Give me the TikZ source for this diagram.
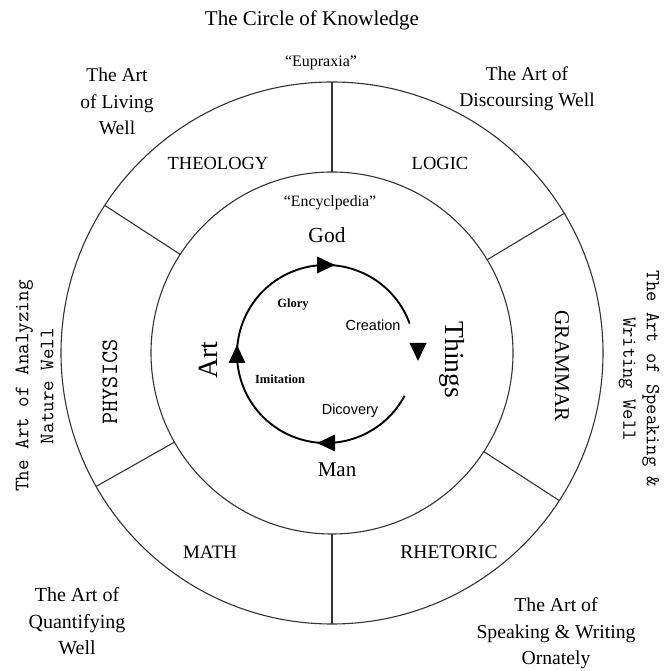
\documentclass[tikz,border=0pt]{standalone}
\usepackage{fontspec}
\setmainfont{Liberation Serif}
\newfontfamily\sansf{Liberation Sans}
\newcommand{\fsz}[2]{\fontsize{#1}{#2}\selectfont}
\begin{document}
\begin{tikzpicture}[x=1pt,y=1pt,
  lbl/.style={inner sep=0pt, text=black},
  ring/.style={draw=black!80, line width=1.1pt},
  cyc/.style={draw=black, line width=1.9pt},
  tri/.pic={\fill[black] (9,0) -- (-9,8.5) -- (-9,-8.5) -- cycle;}]
\useasboundingbox (0,0) rectangle (666,671);
\fill[white] (0,0) rectangle (666,671);
% circles
\coordinate (C) at (332,318);
\draw[ring] (C) circle[radius=271];
\draw[ring] (C) circle[radius=181];
\foreach \a in {90,31,-33,-90,209.5,147}
  \draw[ring] ([shift={(\a:181)}]C) -- ([shift={(\a:271)}]C);
% cycle
\coordinate (K) at (326,317);
\draw[cyc] ([shift={(20:89)}]K) arc[start angle=20, end angle=332, radius=89];
\pic[rotate=0] at ([shift={(90:89)}]K) {tri};
\pic[rotate=90] at ([shift={(180:89)}]K) {tri};
\pic[rotate=180] at ([shift={(270:89)}]K) {tri};
\pic[rotate=-90] at (418,319) {tri};
% texts
\node[lbl, font=\fsz{21}{25}] (title) at (312,651) {The Circle of Knowledge};
\node[lbl, font=\fsz{16}{19}] (eupraxia) at (321,608) {“Eupraxia”};
\node[lbl, align=center, font=\fsz{19.5}{26.5}] (living) at (117,569.5) {The Art\\of Living\\Well};
\node[lbl, align=center, font=\fsz{19.5}{26.5}] (discoursing) at (527,582.5) {The Art of\\Discoursing Well};
\node[lbl, font=\fsz{18.5}{22}] (theology) at (218,508) {THEOLOGY};
\node[lbl, font=\fsz{18.5}{22}] (logic) at (440,508) {LOGIC};
\node[lbl, font=\fsz{15.8}{19}] (encyc) at (330,468) {“Encyclpedia”};
\node[lbl, font=\fsz{21.5}{25}] (god) at (327,436) {God};
\node[lbl, font=\fsz{12.5}{15}\bfseries] (glory) at (293,366) {Glory};
\node[lbl, font=\fsz{14.5}{17}\sansf] (creation) at (373,346) {Creation};
\node[lbl, font=\fsz{12.5}{15}\bfseries] (imitation) at (280,292) {Imitation};
\node[lbl, font=\fsz{14.5}{17}\sansf] (dicovery) at (350,260) {Dicovery};
\node[lbl, font=\fsz{21}{25}] (man) at (337,201) {Man};
\node[lbl, rotate=-90, font=\fsz{27.5}{30}] (things) at (452,311) {Things};
\node[lbl, rotate=90, font=\fsz{28}{30}] (art) at (208,311) {Art};
\node[lbl, rotate=-90, font=\fsz{21}{25}] (grammar) at (562,305) {GRAMMAR};
\node[lbl, rotate=90, font=\fsz{23.5}{26}\ttfamily] (physics) at (110,289) {PHYSICS};
\node[lbl, rotate=90, align=center, font=\fsz{20.5}{25}\ttfamily] (analyzing) at (34.5,285) {The Art of Analyzing\\Nature Well};
\node[lbl, rotate=-90, align=center, font=\fsz{20}{23.5}\ttfamily] (speaking) at (639,292) {The Art of Speaking \&\\Writing Well};
\node[lbl, font=\fsz{19}{22}] (math) at (210,119) {MATH};
\node[lbl, font=\fsz{19.5}{22}] (rhetoric) at (449,119) {RHETORIC};
\node[lbl, align=center, font=\fsz{20}{26.5}] (quant) at (77,49.5) {The Art of\\Quantifying\\Well};
\node[lbl, align=center, font=\fsz{19.7}{26.5}] (ornate) at (556,37.5) {The Art of\\Speaking \& Writing\\Ornately};
\end{tikzpicture}
\end{document}
